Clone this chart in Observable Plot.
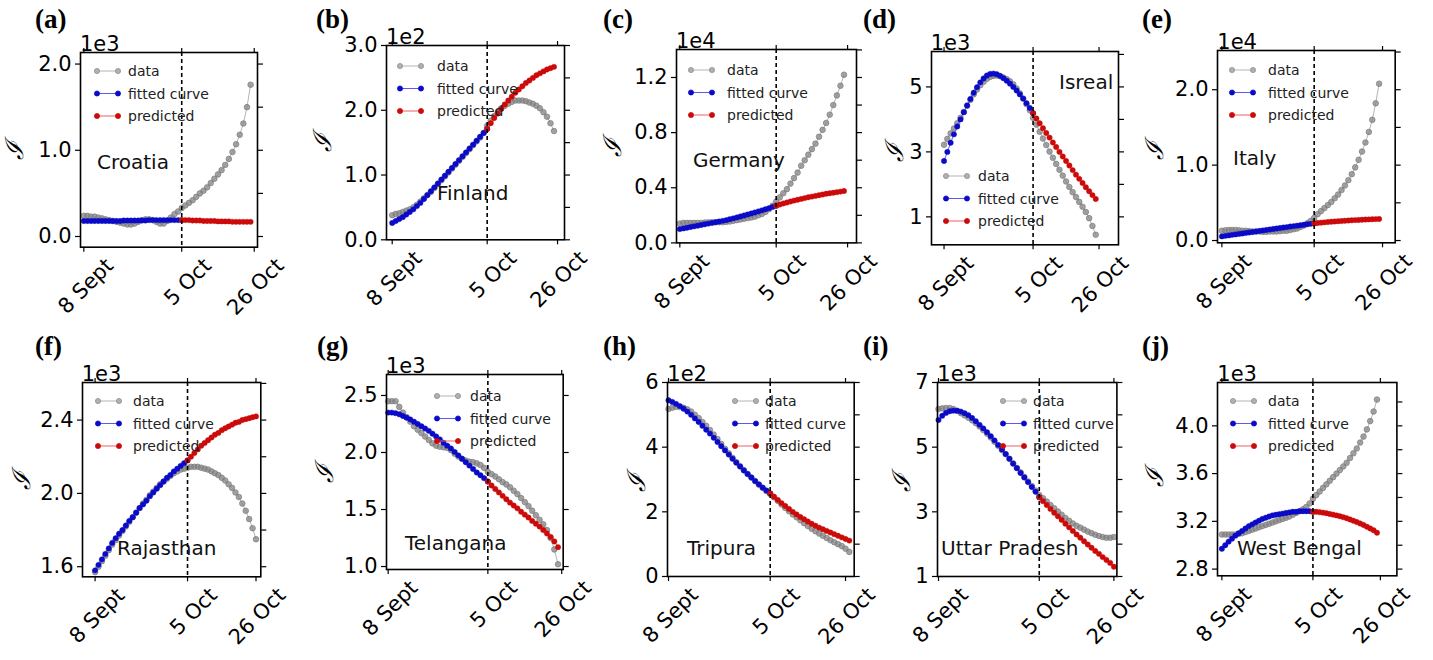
<!DOCTYPE html>
<html><head><meta charset="utf-8">
<script src="https://cdn.jsdelivr.net/npm/d3@7"></script>
<script src="https://cdn.jsdelivr.net/npm/@observablehq/plot@0.6"></script>
<style>
body{margin:0;background:#fff;}
#wrap{position:relative;width:1433px;height:660px;overflow:hidden;background:#fff;font-family:"DejaVu Sans",sans-serif;}
#wrap svg.panel{position:absolute;overflow:visible;background:transparent;}
</style></head><body><div id="wrap"></div><script>
// ---------- data (values in units of the panel exponent) ----------
const xTickDays = [0, 27, 47];
const xTickLabels = ["8 Sept", "5 Oct", "26 Oct"];
const splitDay = 27;
const panelLetters = ["(a)","(b)","(c)","(d)","(e)","(f)","(g)","(h)","(i)","(j)"];
const countries = ["Croatia","Finland","Germany","Isreal","Italy","Rajasthan","Telangana","Tripura","Uttar Pradesh","West Bengal"];
const exponents = ["1e3","1e2","1e4","1e3","1e4","1e3","1e3","1e2","1e3","1e3"];
const legendLabels = ["data","fitted curve","predicted"];
const yTicks = [[0,1,2],[0,1,2,3],[0,0.4,0.8,1.2],[1,3,5],[0,1,2],[1.6,2.0,2.4],[1.0,1.5,2.0,2.5],[0,2,4,6],[1,3,5,7],[2.8,3.2,3.6,4.0]];
const yTickLabels = [["0.0","1.0","2.0"],["0.0","1.0","2.0","3.0"],["0.0","0.4","0.8","1.2"],["1","3","5"],["0.0","1.0","2.0"],["1.6","2.0","2.4"],["1.0","1.5","2.0","2.5"],["0","2","4","6"],["1","3","5","7"],["2.8","3.2","3.6","4.0"]];
const yRightTicks = [[0,0.5,1,1.5,2],[0,0.5,1,1.5,2,2.5,3],[0,0.2,0.4,0.6,0.8,1.0,1.2,1.4],[1,2,3,4,5,6],[0,0.5,1,1.5,2,2.5],[1.6,1.8,2.0,2.2,2.4,2.6],[1.0,1.5,2.0,2.5],[0,1,2,3,4,5,6],[1,2,3,4,5,6,7],[2.8,3.0,3.2,3.4,3.6,3.8,4.0,4.2]];

const dataCroatia = [0.24,0.24,0.23,0.23,0.22,0.21,0.20,0.19,0.18,0.17,0.16,0.15,0.14,0.14,0.15,0.17,0.19,0.20,0.20,0.19,0.17,0.15,0.15,0.18,0.22,0.26,0.29,0.33,0.36,0.39,0.42,0.46,0.50,0.53,0.57,0.62,0.67,0.72,0.77,0.83,0.90,0.98,1.07,1.18,1.31,1.50,1.76];
const fitCroatia = [0.18,0.18,0.18,0.18,0.18,0.18,0.18,0.18,0.18,0.18,0.18,0.185,0.185,0.185,0.185,0.185,0.185,0.185,0.19,0.19,0.19,0.19,0.19,0.19,0.19,0.19,0.19,0.19];
const predCroatia = [0.19,0.19,0.19,0.185,0.185,0.185,0.18,0.18,0.18,0.18,0.175,0.175,0.175,0.175,0.17,0.17,0.17,0.17,0.17,0.17];

const dataFinland = [0.38,0.40,0.41,0.43,0.45,0.47,0.50,0.54,0.59,0.64,0.69,0.74,0.80,0.86,0.92,0.98,1.04,1.10,1.16,1.22,1.28,1.34,1.40,1.46,1.52,1.58,1.65,1.76,1.84,1.91,1.97,2.03,2.07,2.10,2.13,2.15,2.15,2.15,2.14,2.12,2.10,2.07,2.03,1.97,1.90,1.80,1.68];
const fitFinland = [0.26,0.29,0.32,0.35,0.39,0.43,0.47,0.52,0.57,0.63,0.69,0.75,0.81,0.87,0.93,0.99,1.05,1.11,1.17,1.23,1.29,1.35,1.41,1.47,1.53,1.59,1.65,1.71];
const predFinland = [1.71,1.80,1.88,1.95,2.02,2.09,2.15,2.21,2.27,2.32,2.37,2.42,2.46,2.50,2.54,2.57,2.60,2.63,2.65,2.67];

const dataGermany = [0.14,0.145,0.145,0.145,0.145,0.145,0.145,0.148,0.15,0.15,0.15,0.15,0.15,0.152,0.155,0.16,0.165,0.17,0.175,0.18,0.185,0.19,0.20,0.21,0.225,0.245,0.27,0.30,0.33,0.36,0.39,0.43,0.47,0.51,0.56,0.60,0.64,0.68,0.72,0.77,0.82,0.87,0.93,1.00,1.07,1.14,1.22];
const fitGermany = [0.10,0.105,0.11,0.115,0.12,0.125,0.13,0.135,0.14,0.145,0.15,0.155,0.16,0.165,0.172,0.178,0.185,0.192,0.199,0.206,0.213,0.220,0.228,0.236,0.244,0.252,0.261,0.27];
const predGermany = [0.27,0.278,0.286,0.293,0.30,0.307,0.313,0.319,0.325,0.331,0.336,0.341,0.346,0.351,0.356,0.360,0.364,0.368,0.372,0.376];

const dataIsrael = [3.22,3.40,3.57,3.72,3.88,4.05,4.23,4.42,4.60,4.77,4.92,5.05,5.16,5.25,5.31,5.34,5.35,5.33,5.29,5.24,5.17,5.08,4.95,4.80,4.64,4.47,4.28,4.05,3.84,3.62,3.41,3.21,3.01,2.82,2.63,2.45,2.27,2.09,1.92,1.76,1.61,1.46,1.31,1.15,0.96,0.72,0.45];
const fitIsrael = [2.72,3.00,3.28,3.54,3.78,4.00,4.22,4.43,4.63,4.82,4.99,5.14,5.26,5.35,5.40,5.41,5.39,5.34,5.27,5.19,5.10,5.00,4.89,4.77,4.64,4.50,4.35,4.19];
const predIsrael = [4.19,4.03,3.88,3.73,3.58,3.44,3.29,3.15,3.00,2.86,2.72,2.58,2.44,2.30,2.17,2.04,1.91,1.79,1.67,1.55];

const dataItaly = [0.13,0.135,0.14,0.14,0.14,0.135,0.13,0.13,0.125,0.12,0.12,0.12,0.115,0.115,0.12,0.12,0.12,0.125,0.13,0.13,0.14,0.15,0.16,0.18,0.20,0.23,0.26,0.30,0.35,0.39,0.43,0.47,0.51,0.56,0.61,0.67,0.73,0.80,0.88,0.97,1.07,1.18,1.30,1.44,1.60,1.82,2.08];
const fitItaly = [0.055,0.062,0.068,0.075,0.081,0.088,0.094,0.101,0.107,0.114,0.12,0.127,0.133,0.14,0.146,0.153,0.159,0.166,0.172,0.178,0.185,0.191,0.197,0.203,0.209,0.215,0.221,0.227];
const predItaly = [0.227,0.232,0.237,0.241,0.245,0.249,0.253,0.256,0.259,0.262,0.265,0.268,0.271,0.273,0.276,0.278,0.28,0.282,0.284,0.286];

const dataRajasthan = [1.57,1.60,1.63,1.66,1.69,1.72,1.745,1.77,1.795,1.82,1.845,1.87,1.895,1.92,1.945,1.965,1.99,2.01,2.03,2.05,2.065,2.08,2.095,2.11,2.12,2.13,2.135,2.14,2.145,2.145,2.145,2.14,2.135,2.13,2.12,2.11,2.10,2.085,2.07,2.05,2.03,2.005,1.98,1.945,1.905,1.86,1.81,1.75];
const fitRajasthan = [1.58,1.61,1.64,1.67,1.70,1.73,1.755,1.78,1.80,1.825,1.85,1.87,1.895,1.92,1.94,1.96,1.985,2.005,2.025,2.045,2.065,2.085,2.10,2.12,2.135,2.15,2.165,2.18];
const predRajasthan = [2.18,2.20,2.22,2.24,2.26,2.275,2.29,2.305,2.32,2.33,2.345,2.355,2.365,2.375,2.385,2.39,2.40,2.405,2.41,2.415,2.42];

const dataTelangana = [2.45,2.45,2.45,2.40,2.35,2.31,2.27,2.23,2.20,2.17,2.14,2.11,2.08,2.06,2.05,2.045,2.04,2.02,1.99,1.965,1.945,1.93,1.92,1.915,1.905,1.89,1.865,1.83,1.81,1.79,1.765,1.74,1.72,1.695,1.665,1.635,1.60,1.565,1.53,1.49,1.45,1.41,1.37,1.32,1.25,1.15,1.02];
const fitTelangana = [2.35,2.35,2.345,2.335,2.32,2.305,2.29,2.27,2.25,2.23,2.21,2.19,2.165,2.14,2.115,2.085,2.06,2.035,2.005,1.975,1.945,1.915,1.885,1.855,1.825,1.80,1.775,1.745];
const predTelangana = [1.745,1.71,1.68,1.65,1.62,1.59,1.56,1.535,1.51,1.48,1.455,1.43,1.40,1.375,1.35,1.32,1.29,1.26,1.22,1.17];

const dataTripura = [5.18,5.22,5.25,5.25,5.22,5.17,5.10,5.00,4.90,4.78,4.66,4.53,4.39,4.25,4.10,3.95,3.81,3.67,3.54,3.41,3.29,3.17,3.06,2.95,2.84,2.74,2.64,2.55,2.45,2.34,2.23,2.12,2.02,1.92,1.83,1.74,1.65,1.56,1.48,1.40,1.33,1.26,1.19,1.12,1.06,1.00,0.94,0.86,0.76];
const fitTripura = [5.45,5.40,5.34,5.27,5.19,5.10,5.00,4.89,4.78,4.66,4.54,4.42,4.29,4.16,4.03,3.90,3.77,3.64,3.52,3.40,3.28,3.17,3.06,2.95,2.85,2.75,2.66,2.57];
const predTripura = [2.57,2.47,2.37,2.27,2.18,2.09,2.00,1.92,1.84,1.77,1.70,1.63,1.57,1.51,1.46,1.41,1.36,1.31,1.26,1.21,1.16,1.11];

const dataUttarPradesh = [6.18,6.20,6.21,6.21,6.18,6.12,6.05,5.98,5.91,5.83,5.74,5.64,5.53,5.42,5.30,5.17,5.04,4.91,4.78,4.64,4.50,4.36,4.22,4.08,3.94,3.80,3.66,3.52,3.42,3.32,3.21,3.11,3.01,2.91,2.81,2.72,2.64,2.57,2.51,2.45,2.39,2.34,2.29,2.25,2.22,2.20,2.20,2.22];
const fitUttarPradesh = [5.84,5.97,6.06,6.11,6.13,6.13,6.10,6.05,5.99,5.90,5.80,5.69,5.58,5.46,5.34,5.21,5.07,4.93,4.79,4.64,4.49,4.35,4.20,4.06,3.92,3.77,3.62,3.45];
const predUttarPradesh = [3.45,3.33,3.21,3.09,2.97,2.86,2.75,2.63,2.52,2.41,2.30,2.20,2.09,1.99,1.89,1.79,1.70,1.60,1.51,1.42,1.30];

const dataWestBengal = [3.09,3.09,3.09,3.09,3.09,3.095,3.10,3.11,3.12,3.13,3.14,3.15,3.16,3.17,3.18,3.19,3.20,3.21,3.22,3.23,3.24,3.255,3.27,3.285,3.30,3.32,3.35,3.39,3.42,3.45,3.48,3.51,3.54,3.57,3.60,3.63,3.66,3.69,3.73,3.77,3.81,3.86,3.91,3.97,4.04,4.12,4.22];
const fitWestBengal = [2.97,3.00,3.03,3.055,3.08,3.10,3.12,3.14,3.16,3.175,3.19,3.205,3.22,3.23,3.24,3.25,3.255,3.26,3.265,3.27,3.275,3.28,3.28,3.285,3.285,3.285,3.285,3.28];
const predWestBengal = [3.28,3.28,3.277,3.273,3.268,3.262,3.256,3.25,3.243,3.235,3.226,3.216,3.205,3.194,3.182,3.17,3.155,3.14,3.125,3.105];

const observed = [dataCroatia,dataFinland,dataGermany,dataIsrael,dataItaly,dataRajasthan,dataTelangana,dataTripura,dataUttarPradesh,dataWestBengal];
const fitted = [fitCroatia,fitFinland,fitGermany,fitIsrael,fitItaly,fitRajasthan,fitTelangana,fitTripura,fitUttarPradesh,fitWestBengal];
const predicted = [predCroatia,predFinland,predGermany,predIsrael,predItaly,predRajasthan,predTelangana,predTripura,predUttarPradesh,predWestBengal];

// ---------- layout (pixel frames, scale extents) ----------
const layout = [
 {frame:[80,52,257,246.7], xd:[-0.92,47.9], yd:[-0.124,2.134]},
 {frame:[386,45,564,239.3], xd:[-1.62,48.98], yd:[0,3.0]},
 {frame:[676,49.3,856,242.7], xd:[-0.93,49.5], yd:[0,1.403]},
 {frame:[930.7,50.7,1117.7,244], xd:[-3.8,52.9], yd:[0.14,6.09]},
 {frame:[1217.3,50,1395,242.3], xd:[-1.28,50.7], yd:[-0.03,2.52]},
 {frame:[81.7,381.7,260,576], xd:[-3.68,48.4], yd:[1.545,2.605]},
 {frame:[386,374,562.7,569], xd:[-0.45,47.4], yd:[0.974,2.684]},
 {frame:[667.3,381.7,854,575.7], xd:[-0.27,49.3], yd:[0,6]},
 {frame:[937.3,381.7,1116.7,575.7], xd:[-0.27,47.8], yd:[1,7]},
 {frame:[1217.3,381.7,1396.7,575], xd:[-1.3,51.9], yd:[2.744,4.363]}
];
const legendLayout = [
 {sx:97,tx:128,y0:71},{sx:400,tx:437,y0:66},{sx:691,tx:727,y0:70},{sx:946,tx:978,y0:176},{sx:1232,tx:1268,y0:70},
 {sx:98,tx:133,y0:401},{sx:437,tx:470,y0:396},{sx:735,tx:765,y0:401},{sx:1003,tx:1033,y0:401},{sx:1233,tx:1268,y0:401}
];
const countryPos = [[97,169],[437,200],[693,167],[1059,89],[1233,165],[117,555],[405,550],[687,555],[941,555],[1237,555]];
const letterPos = [[35,28],[316,28],[603,28],[863,28],[1142,28],[35,355],[317,355],[603,355],[863,355],[1142,355]];
const yLabelPos = [[14,150],[322,142],[612,147],[894,152],[1154,150],[21,480],[324,473],[636,482],[901,482],[1154,477]];

const COL = {data:"#858585", dataLine:"#b4b4b4", fit:"#0a0ac8", fitLine:"#5a5aee", pred:"#cc0a0a", predLine:"#ee6060"};

const wrap = document.getElementById("wrap");
const ML = 80, MT = 20, MR = 40, MB = 100;

layout.forEach((lay, k) => {
  const [L, T, R, B] = lay.frame;
  const obs = observed[k].map((v, i) => ({day: i, v}));
  const fit = fitted[k].map((v, i) => ({day: i, v}));
  const pred = predicted[k].map((v, i) => ({day: splitDay + i, v}));
  const yt = yTicks[k], yl = yTickLabels[k];
  const chart = Plot.plot({
    width: R - L + ML + MR, height: B - T + MT + MB,
    marginLeft: ML, marginTop: MT, marginRight: MR, marginBottom: MB,
    x: {domain: lay.xd},
    y: {domain: lay.yd},
    style: {fontFamily: "DejaVu Sans", fontSize: "21px", color: "black", background: "transparent", overflow: "visible"},
    marks: [
      Plot.line(obs, {x: "day", y: "v", stroke: COL.dataLine, strokeWidth: 1}),
      Plot.dot(obs, {x: "day", y: "v", r: 2.8, fill: COL.data, fillOpacity: 0.75, stroke: "#7a7a7a", strokeWidth: 0.7}),
      Plot.line(fit, {x: "day", y: "v", stroke: COL.fitLine, strokeWidth: 1}),
      Plot.dot(fit, {x: "day", y: "v", r: 2.7, fill: COL.fit, stroke: COL.fit, strokeWidth: 0.4}),
      Plot.line(pred, {x: "day", y: "v", stroke: COL.predLine, strokeWidth: 1}),
      Plot.dot(pred, {x: "day", y: "v", r: 2.7, fill: COL.pred, stroke: COL.pred, strokeWidth: 0.4}),
      Plot.ruleX([splitDay], {stroke: "black", strokeWidth: 1.6, strokeDasharray: "4,3"}),
      Plot.frame({stroke: "black", strokeWidth: 1.6}),
      Plot.axisX({ticks: xTickDays, tickSize: 5, fill: "none", label: null, strokeWidth: 1.2}),
      Plot.axisX({anchor: "top", ticks: xTickDays, tickSize: 5, fill: "none", label: null, strokeWidth: 1.2}),
      Plot.axisX({ticks: xTickDays, tickSize: 0, tickPadding: 8, tickRotate: -45, dx: 26, dy: 7,
                  tickFormat: d => xTickLabels[xTickDays.indexOf(d)], label: null, fontSize: 21}),
      Plot.axisY({ticks: yt, tickSize: 5, tickPadding: 4, tickFormat: d => yl[yt.indexOf(d)], label: null, fontSize: 21, strokeWidth: 1.2}),
      Plot.axisY({anchor: "right", ticks: yRightTicks[k], tickSize: 5, fill: "none", label: null, strokeWidth: 1.2})
    ]
  });
  chart.classList.add("panel");
  chart.style.left = (L - ML) + "px";
  chart.style.top = (T - MT) + "px";
  wrap.appendChild(chart);
});

// ---------- annotations overlay ----------
const ov = d3.select(wrap).append("svg")
  .attr("width", 1433).attr("height", 660)
  .style("position", "absolute").style("left", "0px").style("top", "0px")
  .style("font-family", "DejaVu Sans, sans-serif");

const legendStyles = [
  {line: COL.dataLine, fill: "#b0b0b0", stroke: "#8a8a8a"},
  {line: COL.fitLine, fill: COL.fit, stroke: COL.fit},
  {line: COL.predLine, fill: COL.pred, stroke: COL.pred}
];

layout.forEach((lay, k) => {
  const [L, T] = lay.frame;
  ov.append("text").attr("x", letterPos[k][0]).attr("y", letterPos[k][1])
    .attr("font-family", "Liberation Serif, serif").attr("font-weight", "bold").attr("font-size", 27)
    .text(panelLetters[k]);
  ov.append("text").attr("x", L).attr("y", T - 1).attr("font-size", 21).text(exponents[k]);
  ov.append("text").attr("transform", `translate(${yLabelPos[k][0]},${yLabelPos[k][1]}) rotate(-90)`)
    .attr("text-anchor", "middle").attr("dominant-baseline", "central")
    .attr("font-family", "DejaVu Serif, serif").attr("font-style", "italic").attr("font-size", 25)
    .text("ℐ");
  ov.append("text").attr("x", countryPos[k][0]).attr("y", countryPos[k][1]).attr("font-size", 20)
    .attr("fill", "#111").text(countries[k]);
  const lg = legendLayout[k];
  legendLabels.forEach((lab, j) => {
    const y = lg.y0 + j * 22.5;
    const s = legendStyles[j];
    ov.append("line").attr("x1", lg.sx).attr("x2", lg.sx + 21).attr("y1", y).attr("y2", y)
      .attr("stroke", s.line).attr("stroke-width", 1);
    [lg.sx, lg.sx + 21].forEach(cx => ov.append("circle").attr("cx", cx).attr("cy", y).attr("r", 2.6)
      .attr("fill", s.fill).attr("stroke", s.stroke).attr("stroke-width", 0.7));
    ov.append("text").attr("x", lg.tx).attr("y", y).attr("dominant-baseline", "central")
      .attr("font-size", 14).attr("fill", "#222").text(lab);
  });
});
</script></body></html>
